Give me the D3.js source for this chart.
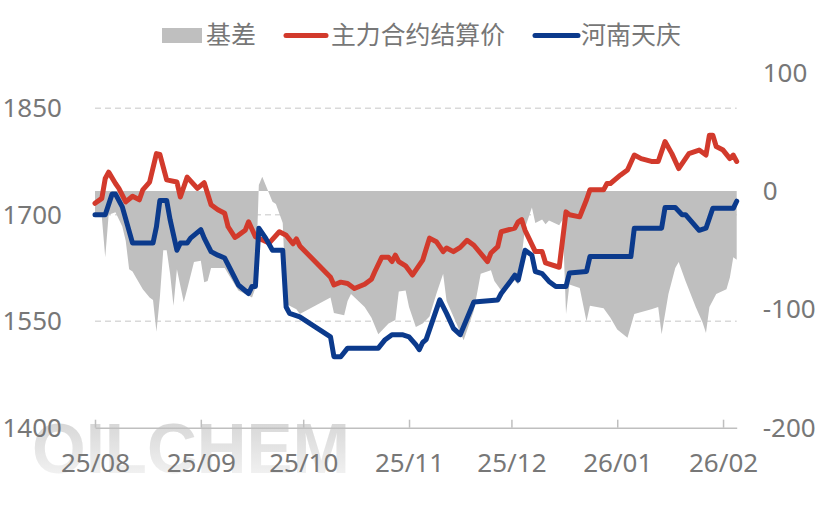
<!DOCTYPE html>
<html><head><meta charset="utf-8">
<script src="https://cdn.jsdelivr.net/npm/d3@7"></script>
<style>body{margin:0;background:#fff}</style></head><body>
<svg id="c" width="830" height="521"></svg>
<script>
// ---------- data ----------
const futDates = ["2025-08-01","2025-08-03","2025-08-04","2025-08-05","2025-08-07","2025-08-08","2025-08-10","2025-08-12","2025-08-14","2025-08-15","2025-08-17","2025-08-19","2025-08-20","2025-08-22","2025-08-25","2025-08-26","2025-08-28","2025-08-31",
"2025-09-02","2025-09-04","2025-09-06","2025-09-08","2025-09-09","2025-09-11","2025-09-12","2025-09-14","2025-09-15","2025-09-17","2025-09-21","2025-09-24","2025-09-26","2025-09-28","2025-09-29","2025-09-30",
"2025-10-09","2025-10-10","2025-10-12","2025-10-14","2025-10-16","2025-10-19","2025-10-21","2025-10-22","2025-10-24","2025-10-26","2025-10-27","2025-10-28","2025-10-29","2025-10-31",
"2025-11-02","2025-11-05","2025-11-07","2025-11-09","2025-11-11","2025-11-12","2025-11-14","2025-11-16","2025-11-18","2025-11-20","2025-11-24","2025-11-25","2025-11-27","2025-11-28",
"2025-12-02","2025-12-03","2025-12-04","2025-12-05","2025-12-08","2025-12-10","2025-12-11","2025-12-15","2025-12-17","2025-12-18","2025-12-21","2025-12-23","2025-12-24","2025-12-28","2025-12-29","2025-12-30",
"2026-01-02","2026-01-04","2026-01-06","2026-01-08","2026-01-11","2026-01-13","2026-01-15","2026-01-17","2026-01-19","2026-01-22","2026-01-25","2026-01-27","2026-01-28","2026-01-29","2026-01-30",
"2026-02-01","2026-02-03","2026-02-04","2026-02-05"];
const futValues = [1716,1723,1751,1760,1744,1737,1718,1726,1721,1735,1746,1786,1785,1749,1746,1725,1753,1737,
1745,1714,1707,1702,1683,1668,1671,1678,1690,1669,1660,1676,1671,1659,1666,1656,
1612,1601,1605,1603,1596,1602,1609,1620,1640,1640,1634,1643,1634,1628,
1615,1636,1667,1662,1648,1653,1648,1654,1664,1657,1634,1646,1655,1676,
1681,1690,1693,1678,1648,1648,1632,1626,1704,1700,1697,1721,1735,1735,1744,1744,
1756,1763,1784,1779,1775,1775,1803,1786,1765,1786,1791,1784,1812,1812,1796,
1791,1779,1784,1775];

const spotDates = ["2025-08-01","2025-08-04","2025-08-06","2025-08-07","2025-08-09","2025-08-12","2025-08-18","2025-08-19","2025-08-20","2025-08-22","2025-08-23","2025-08-25","2025-08-26","2025-08-28","2025-08-29",
"2025-09-01","2025-09-02","2025-09-04","2025-09-06","2025-09-08","2025-09-10","2025-09-12","2025-09-15","2025-09-16","2025-09-17","2025-09-18","2025-09-20","2025-09-22","2025-09-25","2025-09-26","2025-09-27","2025-09-30",
"2025-10-09","2025-10-10","2025-10-12","2025-10-14","2025-10-23","2025-10-25","2025-10-27","2025-10-30",
"2025-11-01","2025-11-03","2025-11-04","2025-11-05","2025-11-06","2025-11-10","2025-11-12","2025-11-14","2025-11-16","2025-11-20","2025-11-27","2025-11-28",
"2025-12-01","2025-12-02","2025-12-03","2025-12-05","2025-12-07","2025-12-08","2025-12-10","2025-12-12","2025-12-14","2025-12-17","2025-12-18","2025-12-23","2025-12-24",
"2026-01-05","2026-01-06","2026-01-14","2026-01-15","2026-01-18","2026-01-20","2026-01-21","2026-01-25","2026-01-27","2026-01-29",
"2026-02-04","2026-02-05"];
const spotValues = [1700,1700,1729,1729,1711,1660,1660,1683,1720,1720,1693,1650,1660,1660,1667,
1679,1667,1648,1643,1639,1620,1601,1589,1599,1599,1681,1667,1650,1650,1570,1561,1556,
1528,1500,1500,1512,1512,1524,1531,1531,
1528,1517,1510,1520,1524,1580,1561,1540,1531,1577,1580,1589,
1608,1615,1608,1650,1643,1620,1617,1606,1599,1599,1618,1620,1641,
1641,1681,1681,1710,1710,1700,1700,1678,1681,1709,
1709,1719];

const basisDates = ["2025-08-01","2025-08-03","2025-08-04","2025-08-05","2025-08-07","2025-08-09","2025-08-10","2025-08-11","2025-08-12","2025-08-13","2025-08-15","2025-08-17","2025-08-18","2025-08-19","2025-08-20","2025-08-21","2025-08-22","2025-08-23","2025-08-24","2025-08-25","2025-08-27","2025-08-28","2025-08-30",
"2025-09-01","2025-09-02","2025-09-03","2025-09-04","2025-09-08","2025-09-09","2025-09-12","2025-09-16","2025-09-17","2025-09-18","2025-09-19","2025-09-22","2025-09-23","2025-09-25","2025-09-26","2025-09-27","2025-09-29","2025-09-30",
"2025-10-09","2025-10-10","2025-10-13","2025-10-14","2025-10-15","2025-10-19","2025-10-21","2025-10-23","2025-10-26","2025-10-28","2025-10-29","2025-10-31",
"2025-11-01","2025-11-03","2025-11-05","2025-11-07","2025-11-09","2025-11-11","2025-11-12","2025-11-14","2025-11-17","2025-11-20","2025-11-22","2025-11-25","2025-11-26","2025-11-28",
"2025-12-01","2025-12-03","2025-12-05","2025-12-07","2025-12-08","2025-12-10","2025-12-11","2025-12-12","2025-12-15","2025-12-16","2025-12-17","2025-12-18","2025-12-21","2025-12-23","2025-12-24","2025-12-28","2025-12-30",
"2026-01-01","2026-01-04","2026-01-06","2026-01-11","2026-01-13","2026-01-14","2026-01-16","2026-01-18","2026-01-19","2026-01-21","2026-01-24","2026-01-26","2026-01-27","2026-01-28","2026-01-30",
"2026-02-02","2026-02-03","2026-02-04","2026-02-05"];
const basisValues = [-20,-22,-56,-20,-18,-30,-42,-66,-68,-73,-83,-90,-92,-119,-90,-50,-50,-70,-97,-66,-94,-83,-60,
-59,-77,-76,-65,-65,-70,-84,-90,-82,5,12,-9,-11,-27,-95,-97,-100,-104,
-90,-103,-105,-93,-87,-98,-107,-121,-112,-109,-85,-84,
-98,-115,-112,-106,-87,-70,-93,-106,-126,-101,-70,-67,-76,-84,
-73,-79,-31,-14,-27,-24,-28,-25,-29,-24,-104,-79,-82,-110,-97,-99,-107,
-117,-124,-104,-100,-98,-121,-87,-65,-60,-76,-98,-111,-120,-98,-87,
-83,-73,-56,-58];

const leftTicks = [1400, 1550, 1700, 1850];
const rightTicks = [-200, -100, 0, 100];
const monthTicks = ["2025-08-01","2025-09-01","2025-10-01","2025-11-01","2025-12-01","2026-01-01","2026-02-01"];
const legendLabels = ["基差", "主力合约结算价", "河南天庆"];
const legendColors = ["#bfbfbf", "#d23a2c", "#0b3a8c"];

// ---------- drawing ----------
const parse = d3.timeParse("%Y-%m-%d");
const svg = d3.select("#c");
const textColor = "#777777";
const font = "'Noto Sans', 'Open Sans', sans-serif";

const x = d3.scaleTime().domain([parse("2025-08-01"), parse("2026-02-05")]).range([95, 736.7]);
const yL = d3.scaleLinear().domain([1400, 1900]).range([427.7, 72.7]);
const yR = d3.scaleLinear().domain([-200, 100]).range([427.7, 72.7]);

const fut = futDates.map((d, i) => ({date: parse(d), v: futValues[i]}));
const spot = spotDates.map((d, i) => ({date: parse(d), v: spotValues[i]}));
const basis = basisDates.map((d, i) => ({date: parse(d), v: basisValues[i]}));

// watermark gradient
const defs = svg.append("defs");
const grad = defs.append("linearGradient").attr("id", "wm").attr("x1", 0).attr("y1", 0).attr("x2", 0).attr("y2", 1);
grad.append("stop").attr("offset", "0%").attr("stop-color", "#c9c9c9");
grad.append("stop").attr("offset", "100%").attr("stop-color", "#f7f7f7");

svg.append("text")
  .attr("x", 32).attr("y", 473)
  .attr("font-family", "'Liberation Sans', Arial, sans-serif")
  .attr("font-weight", "bold").attr("font-size", 71)
  .attr("textLength", 318).attr("lengthAdjust", "spacingAndGlyphs")
  .attr("fill", "url(#wm)").attr("opacity", 0.85)
  .text("OILCHEM");

// gridlines
svg.append("g").selectAll("line")
  .data(leftTicks.filter(t => t !== 1400))
  .join("line")
  .attr("x1", 95).attr("x2", 736.7)
  .attr("y1", d => yL(d)).attr("y2", d => yL(d))
  .attr("stroke", "#d9d9d9").attr("stroke-width", 1.5)
  .attr("stroke-dasharray", "6,4");

// basis area
svg.append("path")
  .datum(basis)
  .attr("fill", legendColors[0])
  .attr("d", d3.area().x(d => x(d.date)).y0(yR(0)).y1(d => yR(d.v)));

// lines
const lineL = d3.line().x(d => x(d.date)).y(d => yL(d.v));
svg.append("path").datum(fut)
  .attr("fill", "none").attr("stroke", legendColors[1]).attr("stroke-width", 5)
  .attr("stroke-linejoin", "round").attr("stroke-linecap", "round")
  .attr("d", lineL);
svg.append("path").datum(spot)
  .attr("fill", "none").attr("stroke", legendColors[2]).attr("stroke-width", 5)
  .attr("stroke-linejoin", "round").attr("stroke-linecap", "round")
  .attr("d", lineL);

// x axis
const xAxis = svg.append("g").attr("transform", "translate(0,427.7)")
  .call(d3.axisBottom(x).tickValues(monthTicks.map(parse))
    .tickFormat(d3.timeFormat("%y/%m")).tickSize(-8).tickSizeOuter(0).tickPadding(26));
xAxis.select(".domain").attr("stroke", "#bfbfbf").attr("stroke-width", 1.5);
xAxis.selectAll(".tick line").attr("stroke", "#bfbfbf").attr("stroke-width", 1.5);
xAxis.selectAll("text").attr("fill", textColor).attr("font-size", 26).attr("font-family", font);

// left axis
const lAxis = svg.append("g").attr("transform", "translate(95,0)")
  .call(d3.axisLeft(yL).tickValues(leftTicks).tickFormat(d => String(d)).tickSize(0).tickPadding(33));
lAxis.select(".domain").remove();
lAxis.selectAll("text").attr("fill", textColor).attr("font-size", 26).attr("font-family", font);

// right axis
const rAxis = svg.append("g").attr("transform", "translate(736.7,0)")
  .call(d3.axisRight(yR).tickValues(rightTicks).tickFormat(d => String(d)).tickSize(0).tickPadding(26));
rAxis.select(".domain").remove();
rAxis.selectAll("text").attr("fill", textColor).attr("font-size", 26).attr("font-family", font);

// legend
const lg = svg.append("g");
const legendPos = [{sx: 162, sw: 40, tx: 206, tw: 50}, {sx: 286, sw: 40, tx: 331, tw: 174}, {sx: 535, sw: 43, tx: 581, tw: 100}];
legendLabels.forEach((lab, i) => {
  const p = legendPos[i];
  if (i === 0) {
    lg.append("rect").attr("x", p.sx).attr("y", 28).attr("width", p.sw).attr("height", 15).attr("fill", legendColors[0]);
  } else {
    lg.append("line").attr("x1", p.sx).attr("x2", p.sx + p.sw).attr("y1", 35.5).attr("y2", 35.5)
      .attr("stroke", legendColors[i]).attr("stroke-width", 5).attr("stroke-linecap", "round");
  }
  lg.append("text").attr("x", p.tx).attr("y", 35).attr("dy", "0.36em")
    .attr("font-family", "'Noto Sans CJK SC', sans-serif").attr("font-size", 25)
    .attr("textLength", p.tw).attr("lengthAdjust", "spacingAndGlyphs")
    .attr("fill", textColor).text(lab);
});
</script>
</body></html>
